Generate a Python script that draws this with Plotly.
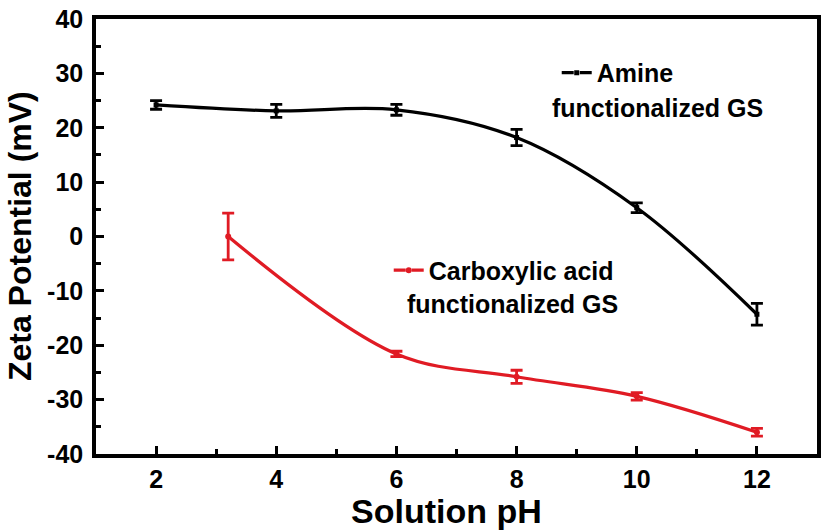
import plotly.graph_objects as go

# Data
amine_ph = [2, 4, 6, 8, 10, 12]
amine_zeta = [24.2, 23.1, 23.3, 18.2, 5.3, -14.3]
amine_err = [0.8, 1.2, 1.0, 1.5, 0.9, 2.0]

carb_ph = [3.2, 6, 8, 10, 12]
carb_zeta = [0.0, -21.6, -25.8, -29.4, -36.0]
carb_err = [4.3, 0.5, 1.2, 0.7, 0.7]

x_ticks = [2, 4, 6, 8, 10, 12]
y_ticks = [40, 30, 20, 10, 0, -10, -20, -30, -40]

BLACK = "#000000"
RED = "#e01b24"
FONT = "Liberation Sans, Arial, sans-serif"

fig = go.Figure()

fig.add_trace(go.Scatter(
    x=amine_ph, y=amine_zeta, mode="lines+markers",
    line=dict(color=BLACK, width=3.2, shape="spline", smoothing=1.0),
    marker=dict(symbol="square", size=5, color=BLACK),
    error_y=dict(type="data", array=amine_err, color=BLACK, thickness=2.8, width=6),
    showlegend=False,
))
fig.add_trace(go.Scatter(
    x=carb_ph, y=carb_zeta, mode="lines+markers",
    line=dict(color=RED, width=3.2, shape="spline", smoothing=1.0),
    marker=dict(symbol="circle", size=6, color=RED),
    error_y=dict(type="data", array=carb_err, color=RED, thickness=2.8, width=6),
    showlegend=False,
))

# legend-only entries
fig.add_trace(go.Scatter(
    x=[None], y=[None], mode="lines+markers", name="Amine",
    line=dict(color=BLACK, width=3.2, dash="12px,6px"),
    marker=dict(symbol="square", size=5, color=BLACK),
    legend="legend",
))
fig.add_trace(go.Scatter(
    x=[None], y=[None], mode="lines+markers", name="Carboxylic acid",
    line=dict(color=RED, width=3.2, dash="12px,6px"),
    marker=dict(symbol="circle", size=6, color=RED),
    legend="legend2",
))

legend_font = dict(family=FONT, size=25, color="black", weight="bold")

fig.update_layout(
    width=826, height=532,
    margin=dict(l=96, r=5, t=15, b=78),
    paper_bgcolor="white", plot_bgcolor="white",
    font=dict(family=FONT, color="black"),
    legend=dict(x=0.639, y=0.876, xanchor="left", yanchor="middle",
                bgcolor="rgba(0,0,0,0)", font=legend_font),
    legend2=dict(x=0.406, y=0.422, xanchor="left", yanchor="middle",
                 bgcolor="rgba(0,0,0,0)", font=legend_font),
    annotations=[
        dict(text="<b>functionalized GS</b>", xref="paper", yref="paper",
             x=0.779, y=0.795, xanchor="center", yanchor="middle", showarrow=False,
             font=dict(family=FONT, size=25, color="black")),
        dict(text="<b>functionalized GS</b>", xref="paper", yref="paper",
             x=0.577, y=0.344, xanchor="center", yanchor="middle", showarrow=False,
             font=dict(family=FONT, size=25, color="black")),
        # axis titles
        dict(text="<b>Zeta Potential (mV)</b>", xref="paper", yref="paper",
             x=-0.106, y=0.5, xanchor="center", yanchor="middle", textangle=-90,
             showarrow=False, font=dict(family=FONT, size=32, color="black")),
        dict(text="<b>Solution pH</b>", xref="paper", yref="paper",
             x=0.486, y=-0.132, xanchor="center", yanchor="middle",
             showarrow=False, font=dict(family=FONT, size=34, color="black")),
    ],
)

fig.update_xaxes(
    range=[1, 13], tickvals=x_ticks, ticktext=[str(v) for v in x_ticks],
    ticks="inside", ticklen=8, tickwidth=2.5, tickcolor="black",
    minor=dict(dtick=1, ticks="inside", ticklen=5, tickwidth=2.5, tickcolor="black"),
    showline=True, linewidth=3.5, linecolor="black", mirror=True,
    showgrid=False, zeroline=False, ticklabeloverflow="allow",
    tickfont=dict(family=FONT, size=25, weight="bold"),
)
fig.update_yaxes(
    range=[-40, 40], tickvals=y_ticks, ticktext=[str(v) for v in y_ticks],
    ticks="inside", ticklen=8, tickwidth=2.5, tickcolor="black",
    minor=dict(dtick=5, ticks="inside", ticklen=5, tickwidth=2.5, tickcolor="black"),
    showline=True, linewidth=3.5, linecolor="black", mirror=True,
    showgrid=False, zeroline=False, ticklabeloverflow="allow",
    ticklabelstandoff=4,
    tickfont=dict(family=FONT, size=25, weight="bold"),
)

# remove the default 8px page margin so the figure fills the window exactly
fig.write_html("out.html", config={"displayModeBar": False},
               post_script="document.body.style.margin='0px';")
